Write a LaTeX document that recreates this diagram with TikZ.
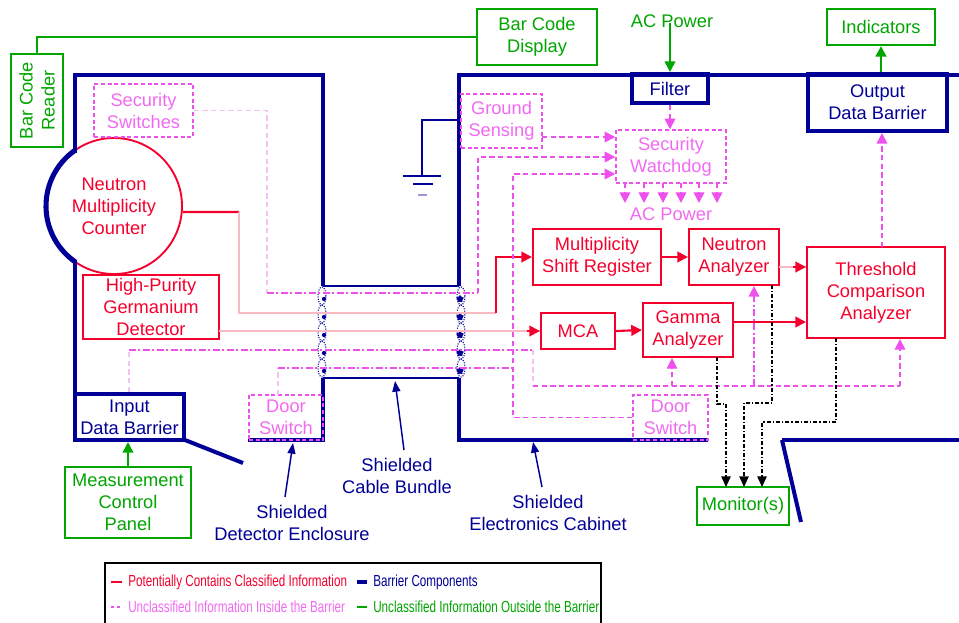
\documentclass[tikz,border=0pt]{standalone}
\usepackage{fontspec}
\setmainfont{Liberation Sans}
\usepackage{graphicx}
\usetikzlibrary{arrows.meta,shapes.geometric}
\definecolor{cRed}{RGB}{245,0,45}
\definecolor{cBlue}{RGB}{0,0,150}
\definecolor{cGreen}{RGB}{0,165,0}
\definecolor{cPink}{RGB}{238,80,238}
\definecolor{cPinkT}{RGB}{242,105,242}
\definecolor{cFaintP}{RGB}{242,195,242}
\definecolor{cFaintR}{RGB}{250,185,195}
\newcommand\mf{\fontsize{13.7pt}{16.5pt}\selectfont}
\newcommand\lgf{\fontsize{12pt}{14pt}\selectfont}
\newcommand\bx[7]{\node[#1, minimum width={(#5-#3)*0.75pt}, minimum height={(#6-#4)*0.75pt}] (#2) at ({(#3+#5)/2},{(#4+#6)/2}) {#7};}
\begin{document}
\begin{tikzpicture}[x=0.75pt,y=-0.75pt,
 every node/.style={font=\mf, align=center},
 rbox/.style={draw=cRed, line width=1.6pt, inner sep=0pt, text=cRed},
 gbox/.style={draw=cGreen, line width=1.6pt, inner sep=0pt, text=cGreen},
 bbox/.style={draw=cBlue, line width=3pt, inner sep=0pt, text=cBlue},
 pbox/.style={draw=cPink, line width=1.1pt, dash pattern=on 3pt off 2pt, inner sep=0pt, text=cPinkT},
 barrier/.style={draw=cBlue, line width=3pt},
 thinblue/.style={draw=cBlue, line width=1.5pt},
 redln/.style={draw=cRed, line width=1.6pt},
 redarr/.style={draw=cRed, line width=1.6pt, -{Triangle[length=8pt,width=8pt]}},
 faintred/.style={draw=cFaintR, line width=0.9pt},
 pinkln/.style={draw=cPink, line width=1.2pt, dash pattern=on 4pt off 2.5pt},
 pinkdd/.style={draw=cPink, line width=1.2pt, dash pattern=on 5pt off 2pt on 1.5pt off 2pt},
 faintp/.style={draw=cFaintP, line width=0.9pt, dash pattern=on 4pt off 2.5pt},
 ptip/.style={-{Triangle[length=8pt,width=8pt]}, cPink},
 greenln/.style={draw=cGreen, line width=1.2pt},
 garr/.style={draw=cGreen, line width=1.2pt, -{Triangle[length=8pt,width=8pt]}},
 monln/.style={draw=black, line width=1.2pt, dash pattern=on 3pt off 1.5pt on 1pt off 1.5pt, -{Triangle[length=8pt,width=7pt]}},
 lblarr/.style={draw=cBlue, line width=1.1pt, -{Triangle[length=8pt,width=6pt]}},
 lgtext/.style={anchor=west, inner sep=0pt, font=\lgf}
]
\useasboundingbox (0,0) rectangle (959,622);

% ---------------- barriers ----------------
\node[circle, draw=cRed, line width=1.4pt, minimum size=102pt, inner sep=0pt, text=cRed] (nmc) at (114,206) {Neutron\\Multiplicity\\Counter};
\draw[barrier, line width=3.8pt] ([shift={(125:51pt)}]nmc.center) arc[start angle=125, end angle=235, radius=51pt];
\draw[barrier] (75,153) -- (75,75) -- (323,75) -- (323,286);
\draw[barrier] (75,260) -- (75,440);
\draw[barrier] (323,378) -- (323,440) -- (248,440);
\draw[barrier] (185,440) -- (243,463);
\draw[thinblue] (323,286) -- (459,286);
\draw[thinblue] (323,378) -- (459,378);
\draw[barrier] (459,286) -- (459,75) -- (959,75);
\draw[barrier] (459,378) -- (459,440) -- (708,440);
\draw[barrier] (782,440) -- (959,440);
\draw[barrier] (782,440) -- (801,522);

% cable connectors
\foreach \yy in {296,314,332,350,368}{
  \draw[cBlue, densely dotted, line width=0.8pt] (322,\yy) ellipse [x radius=3pt, y radius=6.8pt];
  \fill[cBlue] (324,\yy+3) circle [radius=1.6pt];
  \draw[cBlue, densely dotted, line width=0.8pt] (461,\yy) ellipse [x radius=3pt, y radius=6.8pt];
  \node[star, star points=5, fill=cBlue, minimum size=6pt, inner sep=0pt] at (460,\yy+3) {};
}

% barrier boxes
\bx{bbox}{flt}{632}{74}{708}{103}{Filter}
\bx{bbox}{odb}{808}{74}{947}{131}{Output\\Data Barrier}
\bx{bbox}{idb}{75}{394}{184}{440}{Input\\Data Barrier}

% ground
\draw[thinblue] (459,120) -- (422,120) -- (422,176);
\draw[thinblue] (403,176) -- (441,176);
\draw[thinblue] (413,184) -- (433,184);
\draw[draw=cBlue!40, line width=1pt] (418,195) -- (427,195);

% ---------------- green (outside) ----------------
\bx{gbox}{bcr}{11}{54}{63}{147}{}
\node[text=cGreen, rotate=90] (bcrt) at (bcr.center) {Bar Code\\Reader};
\bx{gbox}{bcd}{477}{9}{597}{65}{Bar Code\\Display}
\draw[greenln] (bcr.north) |- (bcd.west);
\node[text=cGreen] (acg) at (672,21) {AC Power};
\draw[garr] (acg.south -| flt.north) ++(0,-9) -- (flt.north);
\bx{gbox}{ind}{827}{9}{935}{45}{Indicators}
\draw[garr, line width=2pt] (ind.south |- odb.north) -- (ind.south);
\bx{gbox}{mcp}{65}{467}{191}{538}{Measurement\\Control\\Panel}
\draw[garr] (mcp.north) -- (mcp.north |- idb.south);
\bx{gbox}{mon}{697}{487}{789}{525}{Monitor(s)}

% ---------------- pink boxes ----------------
\bx{pbox}{ss}{94}{84}{193}{137}{Security\\Switches}
\bx{pbox}{gs}{461}{94}{542}{148}{Ground\\Sensing}
\bx{pbox}{sw}{616}{130}{726}{183}{Security\\Watchdog}
\bx{pbox}{dsl}{249}{395}{323}{440}{Door\\Switch}
\bx{pbox}{dsr}{633}{395}{708}{440}{Door\\Switch}
\node[text=cPinkT] (acp) at (671,214) {AC Power};

% ---------------- red boxes ----------------
\bx{rbox}{hpge}{83}{275}{219}{339}{High-Purity\\Germanium\\Detector}
\bx{rbox}{msr}{533}{229}{661}{285}{Multiplicity\\Shift Register}
\bx{rbox}{mca}{541}{313}{615}{349}{MCA}
\bx{rbox}{gam}{643}{303}{733}{357}{Gamma\\Analyzer}
\bx{rbox}{nan}{689}{229}{779}{285}{Neutron\\Analyzer}
\bx{rbox}{tca}{807}{247}{945}{338}{Threshold\\Comparison\\Analyzer}

% red connectors
\coordinate (r1) at (239,212);
\coordinate (r2) at (239,313);
\coordinate (r3) at (496,313);
\draw[redln] (nmc.-5) -- (r1);
\draw[faintred] (r1) -- (r2) -- (r3);
\draw[redarr] (r3) |- (msr.west);
\coordinate (h1) at (219,331);
\draw[faintred] (h1) -- (mca.west);
\draw[redarr] ([xshift=-10pt]mca.west) -- (mca.west);
\draw[redarr] (msr.east) -- (nan.west);
\draw[redarr] (mca.east) -- (gam.west);
\coordinate (n1) at (779,267);
\draw[faintred] (n1) -- (n1 -| tca.west);
\draw[redarr] ([xshift=-10pt]n1 -| tca.west) -- (n1 -| tca.west);
\coordinate (g1) at (733,322);
\draw[redarr] (g1) -- (g1 -| tca.west);

% ---------------- pink connectors ----------------
\draw[pinkln, ptip] (flt.south) -- (flt.south |- sw.north);
\coordinate (p1) at (542,137);
\draw[pinkln, ptip] (p1) -- (p1 -| sw.west);
% security switches
\coordinate (s1) at (267,293);
\coordinate (s2) at (478,157);
\draw[faintp] (ss.east) -| (s1);
\draw[pinkdd] (s1) -- (s2 |- s1);
\draw[pinkln, ptip] (s2 |- s1) -- (s2) -- (s2 -| sw.west);
% door switches
\coordinate (d1) at (278,395);
\coordinate (d2) at (278,368);
\coordinate (d3) at (513,174);
\draw[faintp] (d1) -- (d2);
\draw[pinkdd] (d2) -- (d2 -| d3);
\draw[pinkln, ptip] (dsr.west) -| (d3) -- (d3 -| sw.west);
% input barrier line
\coordinate (i1) at (129,350);
\coordinate (i2) at (533,350);
\coordinate (i3) at (533,386);
\coordinate (i4) at (900,386);
\draw[faintp] (idb.north -| i1) -- (i1);
\draw[pinkdd] (i1) -- (i2);
\draw[faintp] (i2) -- (i3);
\draw[pinkln] (i3) -- (i4);
\draw[pinkln, ptip] (i4) -- (i4 |- tca.south);
\coordinate (b1) at (672,386);
\coordinate (b2) at (754,386);
\draw[faintp, ptip] (b1) -- (b1 |- gam.south);
\draw[pinkdd, ptip] (b2) -- (b2 |- nan.south);
% threshold to output
\coordinate (t1) at (882,247);
\draw[pinkln, ptip] (t1) -- (t1 |- odb.south);
% watchdog outputs
\foreach \xx in {625,644,663,681,699,717}{
  \draw[pinkln, ptip] (\xx,183) -- (\xx,203);
}

% ---------------- monitor lines ----------------
\draw[monln] (717,357) -- (717,404) -- (726,404) -- (726,487);
\draw[monln] (772,285) -- (772,403) -- (744,403) -- (744,487);
\draw[monln] (836,338) -- (836,422) -- (762,422) -- (762,487);

% ---------------- labels ----------------
\node[text=cBlue] (lde) at (292,523) {Shielded\\Detector Enclosure};
\draw[lblarr] (285,497) -- (293,443);
\node[text=cBlue] (lcb) at (397,476) {Shielded\\Cable Bundle};
\draw[lblarr] (404,450) -- (395,381);
\node[text=cBlue] (lec) at (548,513) {Shielded\\Electronics Cabinet};
\draw[lblarr] (542,487) -- (533,442);

% ---------------- legend ----------------
\draw[black, line width=1.5pt] (105,625) -- (105,563) -- (601,563) -- (601,625);
\draw[cRed, line width=1.6pt] (111,582) -- (122,582);
\node[lgtext, text=cRed] (lg1) at (128,582) {\scalebox{0.73}[1]{Potentially Contains Classified Information}};
\draw[cBlue, line width=3pt] (357,582) -- (367,582);
\node[lgtext, text=cBlue] (lg2) at (373,582) {\scalebox{0.73}[1]{Barrier Components}};
\draw[cPink, line width=1.2pt, dash pattern=on 2.5pt off 2pt] (111,607) -- (122,607);
\node[lgtext, text=cPinkT] (lg3) at (128,607) {\scalebox{0.73}[1]{Unclassified Information Inside the Barrier}};
\draw[cGreen, line width=1.6pt] (357,607) -- (367,607);
\node[lgtext, text=cGreen] (lg4) at (373,607) {\scalebox{0.73}[1]{Unclassified Information Outside the Barrier}};
\end{tikzpicture}
\end{document}
